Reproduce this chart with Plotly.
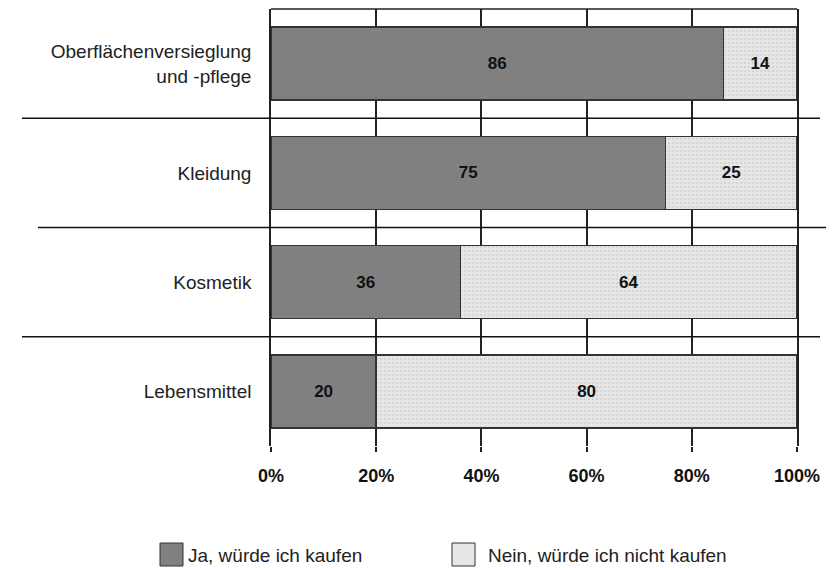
import plotly.graph_objects as go

categories = ["Oberflächenversieglung<br>und -pflege", "Kleidung", "Kosmetik", "Lebensmittel"]
ja_values = [86, 75, 36, 20]
nein_values = [14, 25, 64, 80]
series_names = ["Ja, würde ich kaufen", "Nein, würde ich nicht kaufen"]
tick_vals = [0, 20, 40, 60, 80, 100]
tick_text = ["0%", "20%", "40%", "60%", "80%", "100%"]

FONT = "Liberation Sans, Arial, sans-serif"

W, H = 826, 560
L, T, PW, PH = 263, 1, 526, 437
R = W - L - PW
B = H - T - PH


def px(xp):
    return (xp - L) / PW


def py(yp):
    return (T + PH - yp) / PH


DARK = "#808080"
LIGHT = "#e6e6e6"
EDGE = "#333333"

fig = go.Figure()
fig.add_trace(go.Bar(
    y=categories, x=ja_values, orientation="h", name=series_names[0],
    marker=dict(color=DARK, line=dict(color=EDGE, width=1.5)),
    text=[str(v) for v in ja_values], textposition="inside", insidetextanchor="middle",
    textfont=dict(family=FONT, size=17, color="#111111", weight="bold"),
    width=0.67, showlegend=False,
))
fig.add_trace(go.Bar(
    y=categories, x=nein_values, orientation="h", name=series_names[1],
    marker=dict(color=LIGHT, line=dict(color=EDGE, width=1.5),
                pattern=dict(shape=".", bgcolor=LIGHT, fgcolor="#c4c4c4", size=4, solidity=0.35)),
    text=[str(v) for v in nein_values], textposition="inside", insidetextanchor="middle",
    textfont=dict(family=FONT, size=17, color="#111111", weight="bold"),
    width=0.67, showlegend=False,
))

# separator lines between categories, extending beyond plot
seps = [(0.5, 14, 812), (1.5, 30, 822), (2.5, 14, 812)]
for yv, x0, x1 in seps:
    fig.add_shape(type="line", xref="paper", yref="y", x0=px(x0), x1=px(x1), y0=yv, y1=yv,
                  line=dict(color="#111111", width=1.5), layer="above")
# top frame line
fig.add_shape(type="line", xref="paper", yref="paper", x0=0, x1=1, y0=1, y1=1,
              line=dict(color="#222222", width=1.5))

# manual legend
legend_items = [(152, 178, DARK, series_names[0]), (444, 478, LIGHT, series_names[1])]
for x0, xt, col, name in legend_items:
    fig.add_shape(type="rect", xref="paper", yref="paper",
                  x0=px(x0), x1=px(x0 + 23), y0=py(535), y1=py(558),
                  fillcolor=col, line=dict(color=EDGE, width=1))
    fig.add_annotation(xref="paper", yref="paper", x=px(xt), y=py(547),
                       xanchor="left", yanchor="middle", text=name, showarrow=False,
                       font=dict(family=FONT, size=19, color="#222222"))

fig.update_layout(
    width=W, height=H,
    margin=dict(l=L, r=R, t=T, b=B),
    barmode="stack",
    plot_bgcolor="white", paper_bgcolor="white",
    font=dict(family=FONT, size=19, color="#222222"),
    showlegend=False,
    xaxis=dict(range=[0, 100], tickvals=tick_vals, ticktext=tick_text,
               showgrid=True, gridcolor="#222222", gridwidth=1.5, zeroline=False,
               ticks="outside", ticklen=5, tickcolor="#222222", tickwidth=1.5,
               tickfont=dict(family=FONT, size=18, color="#111111", weight="bold"),
               ticklabelstandoff=8, fixedrange=True),
    yaxis=dict(autorange="reversed", showline=True, mirror=True, linecolor="#222222", linewidth=1.5,
               ticks="", tickfont=dict(family=FONT, size=19, color="#222222"),
               ticklabelstandoff=14, fixedrange=True),
)

fig.write_html("out.html")
